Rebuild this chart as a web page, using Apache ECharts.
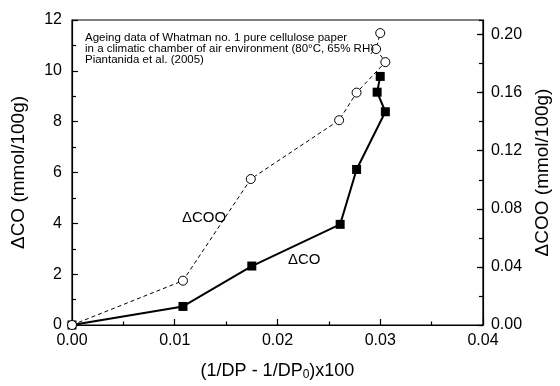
<!DOCTYPE html>
<html>
<head>
<meta charset="utf-8">
<script src="https://cdn.jsdelivr.net/npm/echarts@6/dist/echarts.min.js"></script>
<style>html,body{margin:0;padding:0;background:#fff}#c{width:560px;height:386px}</style>
</head>
<body>
<div id="c"></div>
<script>
// Data
const coX   = [0, 0.0108, 0.0175, 0.0261, 0.0277, 0.0305, 0.0297, 0.0300];
const coY   = [0, 0.73, 2.32, 3.96, 6.12, 8.39, 9.16, 9.78];
const cooX  = [0, 0.0108, 0.0174, 0.0260, 0.0277, 0.0305, 0.0296, 0.0300];
const cooY  = [0, 0.0305, 0.1005, 0.141, 0.160, 0.181, 0.190, 0.201];
const xTicks = [0, 0.01, 0.02, 0.03, 0.04];
const leftTicks = [0, 2, 4, 6, 8, 10, 12];
const rightTicks = [0, 0.04, 0.08, 0.12, 0.16, 0.20];
const noteLines = [
  'Ageing data of Whatman no. 1 pure cellulose paper',
  'in a climatic chamber of air environment (80\u00B0C, 65% RH)',
  'Piantanida et al. (2005)'
];

const FONT = '"Liberation Sans", Arial, sans-serif';
const chart = echarts.init(document.getElementById('c'), null, {renderer: 'canvas'});
const axisLine = {show: true, lineStyle: {color: '#000', width: 1.2}};

chart.setOption({
  animation: false,
  backgroundColor: '#fff',
  textStyle: {fontFamily: FONT, color: '#000'},
  title: {
    text: noteLines.join('\n'),
    left: 80, top: 27,
    textStyle: {fontSize: 11.5, fontWeight: 'normal', color: '#000', fontFamily: FONT, lineHeight: 11}
  },
  grid: {left: 72, right: 73, top: 20, bottom: 56, show: true, borderColor: '#000', borderWidth: 1.2, backgroundColor: 'transparent'},
  xAxis: {
    type: 'value', min: xTicks[0], max: xTicks[xTicks.length - 1], interval: xTicks[1] - xTicks[0],
    name: '(1/DP - 1/DP{sub|0})x100',
    nameLocation: 'middle', nameGap: 36,
    nameTextStyle: {fontSize: 18, fontFamily: FONT, color: '#000', rich: {sub: {fontSize: 12, verticalAlign: 'bottom', padding: [8, 0, 0, 0], fontFamily: FONT}}},
    axisLine: axisLine,
    axisTick: {show: true, inside: true, length: 6, lineStyle: {color: '#000', width: 1.2}},
    minorTick: {show: true, splitNumber: 2, length: 3.5, lineStyle: {color: '#000', width: 1.2}},
    splitLine: {show: false},
    axisLabel: {fontSize: 16, color: '#000', fontFamily: FONT, margin: 8, formatter: v => v.toFixed(2)}
  },
  yAxis: [
    {
      type: 'value', position: 'left', min: leftTicks[0], max: leftTicks[leftTicks.length - 1], interval: leftTicks[1] - leftTicks[0],
      name: '\u0394CO (mmol/100g)', nameLocation: 'middle', nameGap: 44, nameRotate: 90,
      nameTextStyle: {fontSize: 19, fontFamily: FONT, color: '#000'},
      axisLine: axisLine,
      axisTick: {show: true, inside: true, length: 6, lineStyle: {color: '#000', width: 1.2}},
      minorTick: {show: true, splitNumber: 2, length: 4, lineStyle: {color: '#000', width: 1.2}},
      splitLine: {show: false},
      axisLabel: {fontSize: 16, color: '#000', fontFamily: FONT, margin: 10}
    },
    {
      type: 'value', position: 'right', min: 0, max: 0.21, interval: rightTicks[1] - rightTicks[0],
      name: '\u0394COO (mmol/100g)', nameLocation: 'middle', nameGap: 50, nameRotate: 90,
      nameTextStyle: {fontSize: 19, fontFamily: FONT, color: '#000'},
      axisLine: axisLine,
      axisTick: {show: true, inside: true, length: 6, lineStyle: {color: '#000', width: 1.2}},
      splitLine: {show: false},
      axisLabel: {fontSize: 16, color: '#000', fontFamily: FONT, margin: 8, showMaxLabel: false,
        formatter: v => (rightTicks.some(t => Math.abs(t - v) < 1e-9) ? v.toFixed(2) : '')}
    },
    {
      // minor ticks of the right axis (every 0.02)
      type: 'value', position: 'right', min: 0, max: 0.21, interval: 0.02,
      axisLine: {show: false},
      axisTick: {show: true, inside: true, length: 4, lineStyle: {color: '#000', width: 1.2}},
      axisLabel: {show: false},
      splitLine: {show: false}
    }
  ],
  series: [
    {
      name: 'CO', type: 'line', yAxisIndex: 0,
      data: coX.map((x, i) => [x, coY[i]]),
      symbol: 'rect', symbolSize: 9,
      itemStyle: {color: '#000'},
      lineStyle: {color: '#000', width: 2},
      z: 2
    },
    {
      name: 'COO', type: 'line', yAxisIndex: 1,
      data: cooX.map((x, i) => [x, cooY[i]]),
      symbol: 'circle', symbolSize: 9, showAllSymbol: true,
      itemStyle: {color: '#fff', borderColor: '#000', borderWidth: 1},
      lineStyle: {color: '#000', width: 1, type: [4, 3]},
      z: 3
    }
  ],
  graphic: [
    {type: 'text', left: 182, top: 210, style: {text: '\u0394COO', fontSize: 15, fontFamily: FONT, fill: '#000'}},
    {type: 'text', left: 288, top: 252, style: {text: '\u0394CO', fontSize: 15, fontFamily: FONT, fill: '#000'}}
  ]
});
</script>
</body>
</html>
